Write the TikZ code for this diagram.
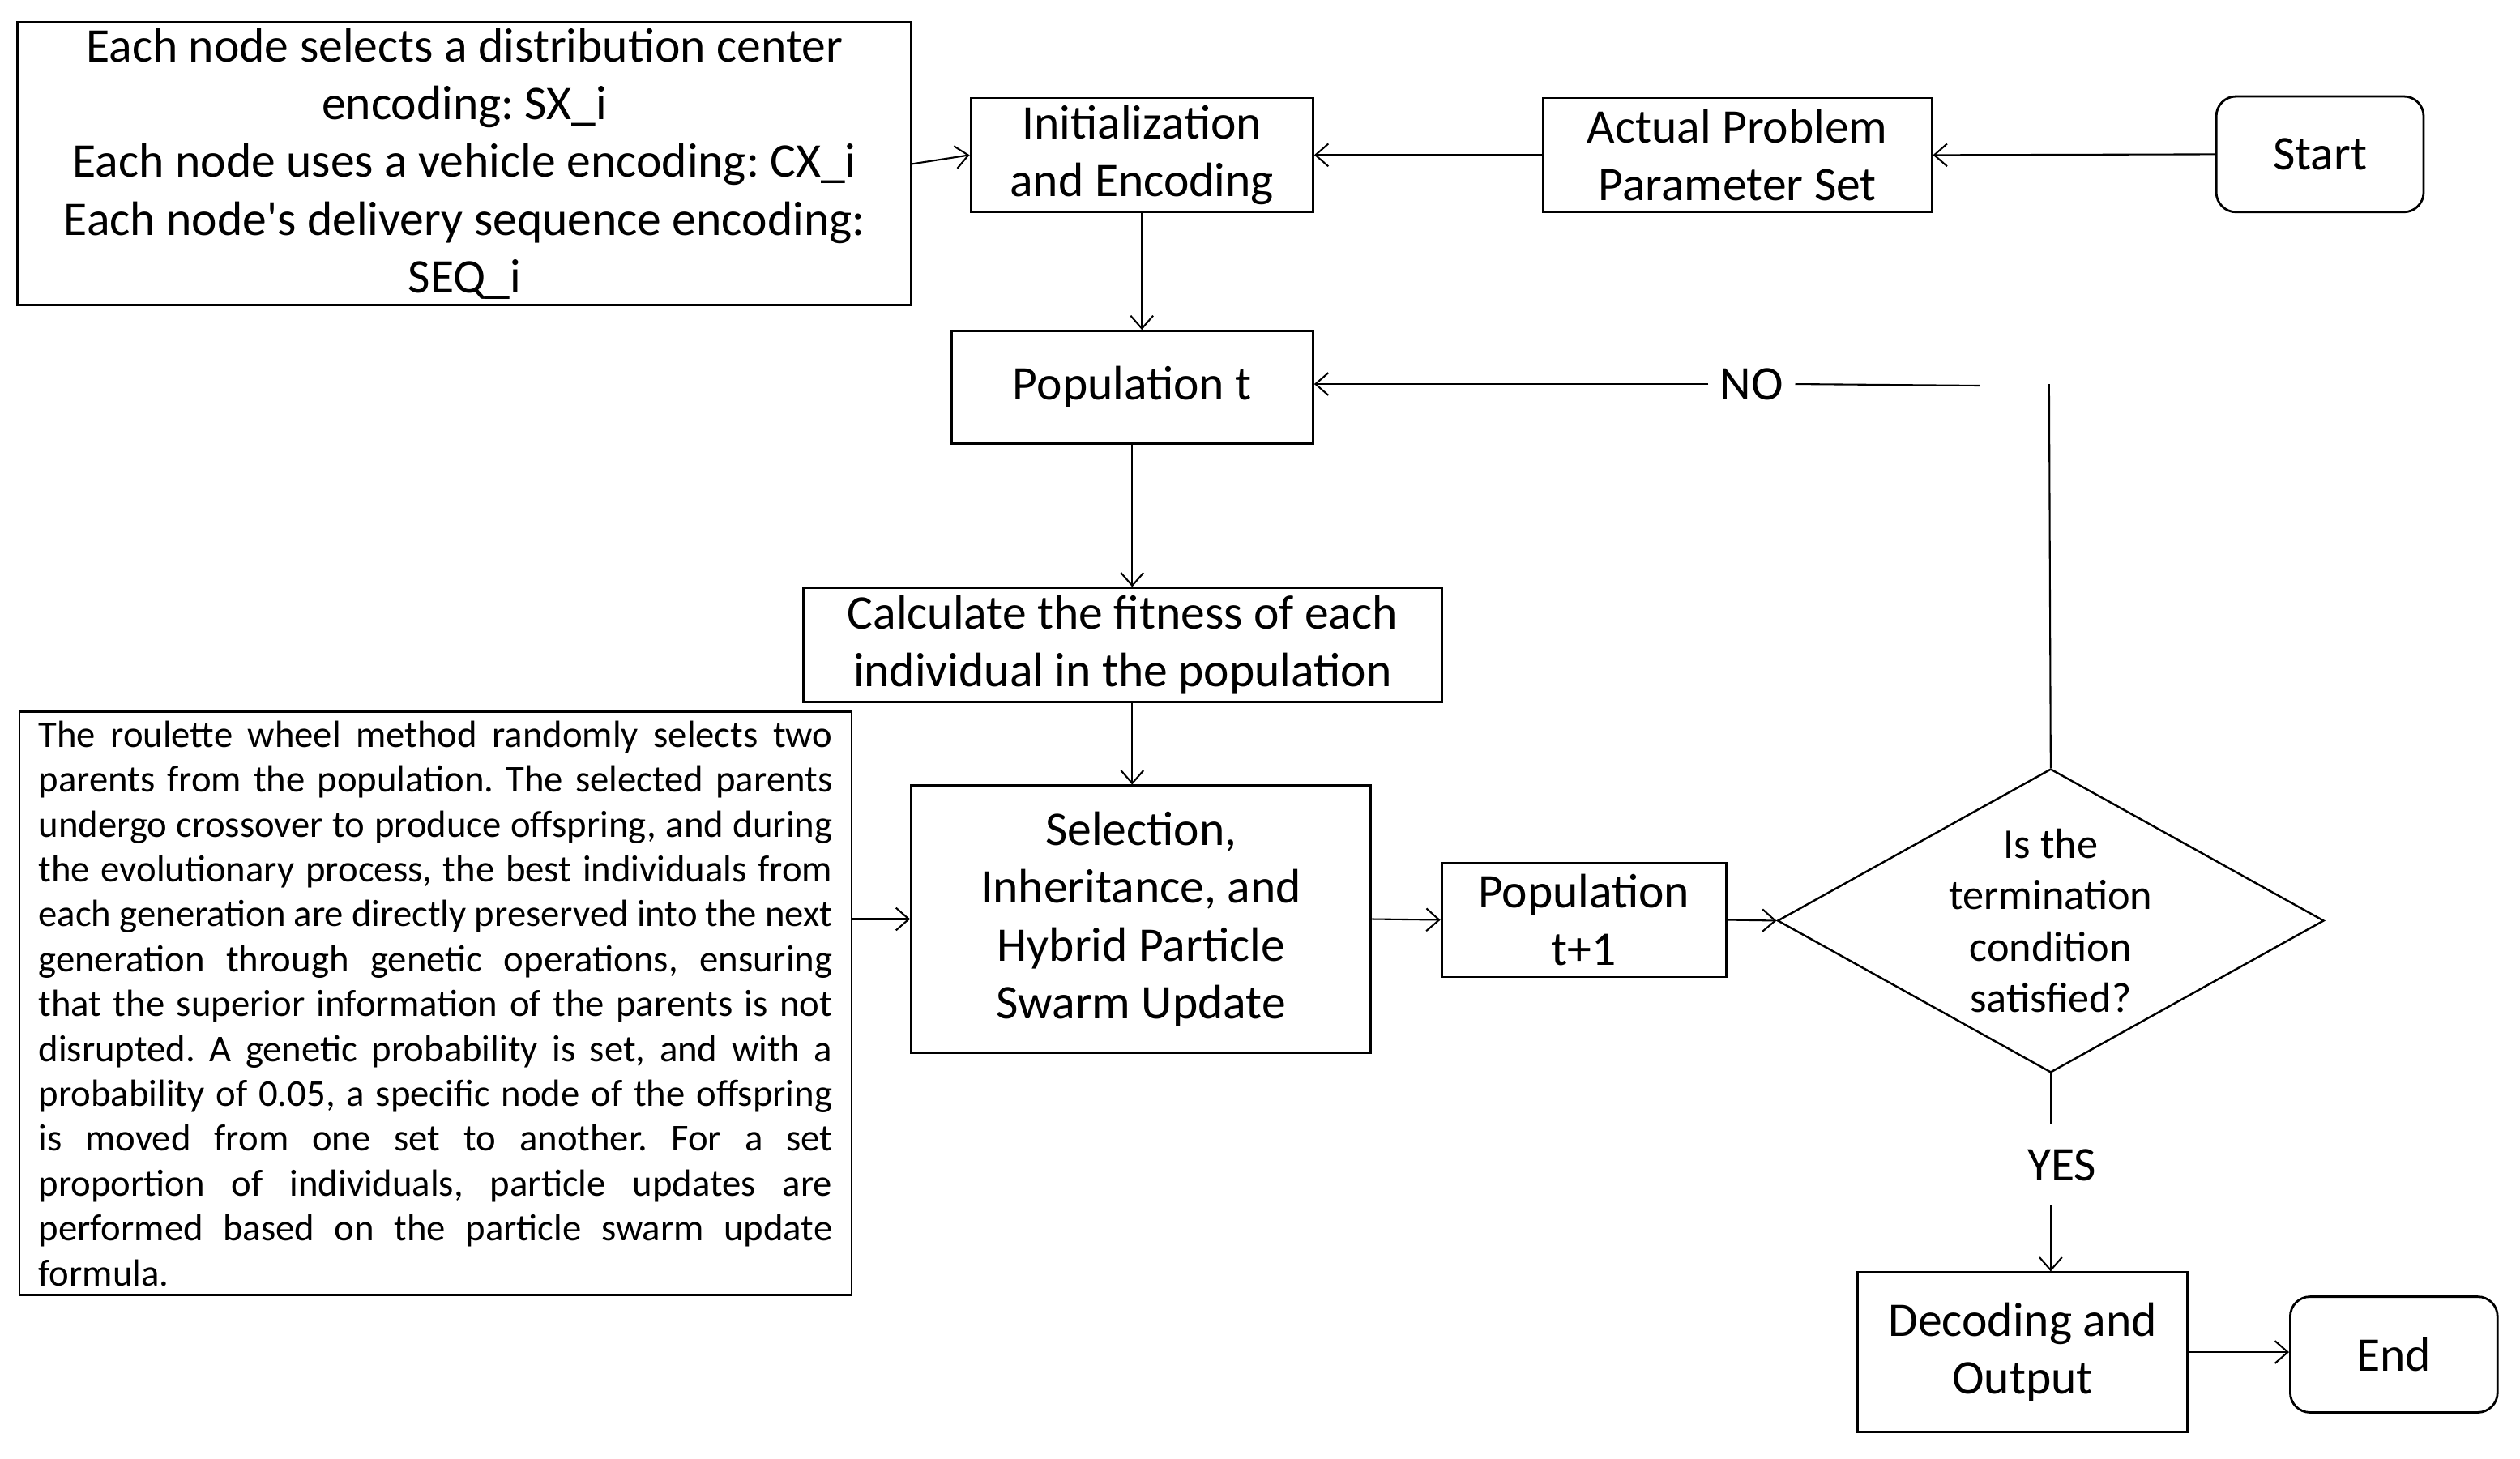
\documentclass[tikz,border=0pt]{standalone}
\usepackage{fontspec}
\setmainfont{Carlito}
\usetikzlibrary{shapes.geometric,arrows.meta}
\frenchspacing

\begin{document}
\begin{tikzpicture}[
    x=0.2mm, y=-0.2mm,
    box/.style={draw, line width=0.8pt, inner sep=0pt, align=center, font=\fontsize{17.1}{20.5}\selectfont},
    term/.style={box, rounded corners=7pt},
    decision/.style={draw, diamond, line width=0.7pt, aspect=1.8, inner sep=0pt, align=center, font=\fontsize{15}{18.2}\selectfont},
    flowtag/.style={inner sep=0pt, font=\fontsize{17.1}{20.5}\selectfont},
    arrow/.style={-{Straight Barb[length=1.6mm,width=2.8mm]}, line width=0.6pt},
    link/.style={line width=0.6pt}
  ]
  \useasboundingbox (0,0) rectangle (1568,908);

  % Top row: encoding note, initialisation, parameters, start
  \node[box, minimum width=11.12cm, minimum height=3.52cm] (enc) at (289,102)
    {Each node selects a distribution center\\encoding: SX\_i\\Each node uses a vehicle encoding: CX\_i\\Each node\textquotesingle s delivery sequence encoding:\\SEQ\_i};
  \node[box, minimum width=4.26cm, minimum height=1.42cm] (init) at (710.5,96.5) {Initialization\\and Encoding};
  \node[box, minimum width=4.84cm, minimum height=1.42cm] (actual) at (1081,96.5) {Actual Problem\\Parameter Set};
  \node[term, minimum width=2.58cm, minimum height=1.44cm] (start) at (1443.5,96) {Start};

  % Main loop
  \node[box, minimum width=4.5cm, minimum height=1.4cm] (popt) at (704.5,241) {Population t};
  \node[box, minimum width=7.94cm, minimum height=1.42cm] (fit) at (698.5,401.5) {Calculate the fitness of each\\individual in the population};
  \node[box, minimum width=5.72cm, minimum height=3.32cm] (sel) at (710,572) {Selection,\\Inheritance, and\\Hybrid Particle\\Swarm Update};
  \node[box, minimum width=3.54cm, minimum height=1.42cm] (pop1) at (985.5,572.5) {Population\\t+1};
  \node[decision, minimum width=6.8cm, minimum height=3.78cm] (cond) at (1276,573) {Is the\\termination\\condition\\satisfied?};

  % Description of the operators
  \node[draw, line width=0.7pt, minimum width=10.36cm, minimum height=7.26cm, text width=9.88cm, align=justify,
    inner sep=0pt, font=\fontsize{13.4}{15.9}\selectfont] (desc) at (271,624.5)
    {The roulette wheel method randomly selects two\linebreak
     parents from the population. The selected parents\linebreak
     undergo crossover to produce offspring, and during\linebreak
     the evolutionary process, the best individuals from\linebreak
     each generation are directly preserved into the next\linebreak
     generation through genetic operations, ensuring\linebreak
     that the superior information of the parents is not\linebreak
     disrupted. A genetic probability is set, and with a\linebreak
     probability of 0.05, a specific node of the offspring\linebreak
     is moved from one set to another. For a set\linebreak
     proportion of individuals, particle updates are\linebreak
     performed based on the particle swarm update\linebreak
     formula.};

  % Output
  \node[box, minimum width=4.1cm, minimum height=1.98cm] (dec) at (1258.5,841.5) {Decoding and\\Output};
  \node[term, minimum width=2.58cm, minimum height=1.44cm] (end) at (1489.5,843) {End};

  % Branch labels
  \node[flowtag, inner xsep=0.14cm] (no) at (1090,239) {NO};
  \node[flowtag, minimum height=1cm] (yes) at (1283,725) {YES};

  % Connectors
  \draw[arrow] (enc.east) -- (init.west);
  \draw[arrow] (actual.west) -- (init.east);
  \draw[arrow] (start.west) -- (actual.east);
  \draw[arrow] (init.south) -- (init.south |- popt.north);
  \draw[arrow] (popt.south) -- (popt.south |- fit.north);
  \draw[arrow] (popt.south |- fit.south) -- (popt.south |- sel.north);
  \draw[arrow] (desc.east |- sel.west) -- (sel.west);
  \draw[arrow] (sel.east) -- (pop1.west);
  \draw[arrow] (pop1.east) -- (cond.west);

  % NO: back to the population (left open at the corner)
  \coordinate (loopTop) at (1275,239);
  \coordinate (loopEnd) at (1232,240);
  \draw[link] (cond.north) -- (loopTop);
  \draw[link] (loopEnd) -- (no.east);
  \draw[arrow] (no.west) -- (no.west -| popt.east);

  % YES: decode and finish
  \draw[link] (cond.south) -- (cond.south |- yes.north);
  \draw[arrow] (cond.south |- yes.south) -- (cond.south |- dec.north);
  \draw[arrow] (dec.east) -- (dec.east -| end.west);

\end{tikzpicture}
\end{document}
